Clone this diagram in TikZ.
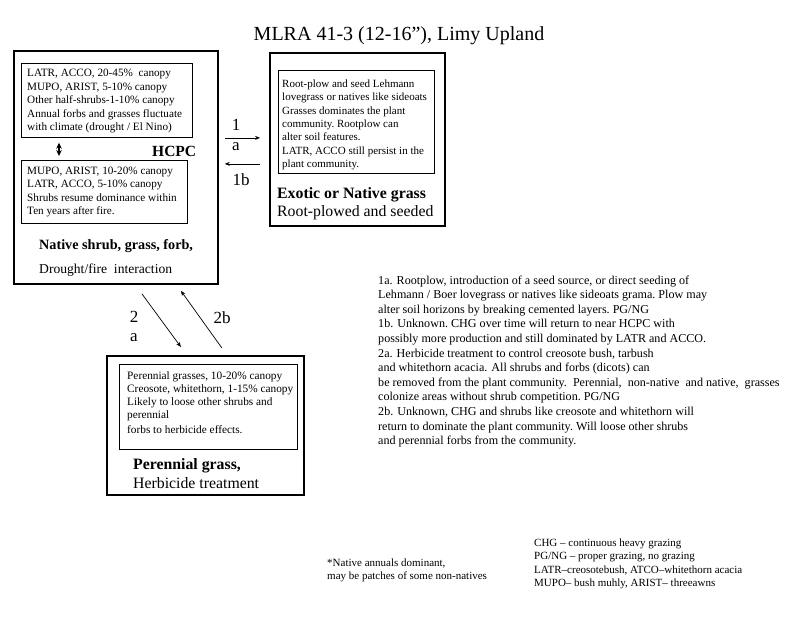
\documentclass[tikz,border=0pt]{standalone}
\usepackage{fontspec}
\setmainfont{Liberation Serif}
\usetikzlibrary{calc,arrows.meta}
\newcommand\mylines[1]{\begin{tabular}[t]{@{}l@{}}#1\end{tabular}}
\tikzset{
  obox/.style={draw, line width=1.8pt, rectangle, inner sep=0pt, anchor=north west},
  ibox/.style={draw, line width=0.7pt, rectangle, inner sep=0pt, anchor=north west},
  txt/.style={anchor=base west, inner sep=0pt, font=\fontsize{11.2}{13.5}\selectfont},
  ptxt/.style={anchor=base west, inner sep=0pt, font=\fontsize{12.1}{14.6}\selectfont},
  ntxt/.style={anchor=base west, inner sep=0pt, font=\fontsize{11}{13.6}\selectfont},
  big/.style={anchor=base west, inner sep=0pt, font=\fontsize{15.8}{18}\selectfont},
  lbl/.style={inner sep=0pt, font=\fontsize{17}{19}\selectfont},
  arr/.style={line width=0.7pt, -{Stealth[length=5pt,width=4pt]}},
  dbl/.style={line width=1.2pt, {Stealth[length=6pt,width=5.5pt]}-{Stealth[length=6pt,width=5.5pt]}}
}
\begin{document}
\begin{tikzpicture}[x=1pt,y=-1pt]
\useasboundingbox (0,0) rectangle (800,618);
\fill[white] (0,0) rectangle (800,618);
% title
\node[inner sep=0pt, font=\fontsize{20}{23}\selectfont] (title) at (399,36) {MLRA 41-3 (12-16”), Limy Upland};
% HCPC
\node[obox, minimum width=204pt, minimum height=233pt] (hcpc) at (13,50) {};
\node[ibox, minimum width=171pt, minimum height=74pt] (in1) at (21,63) {};
\node[ibox, minimum width=166pt, minimum height=63pt] (in2) at (21,160) {};
\node[txt] (t1) at (27,77) {\mylines{LATR, ACCO, 20-45\%\ \ canopy\\MUPO, ARIST, 5-10\% canopy\\Other half-shrubs-1-10\% canopy\\Annual forbs and grasses fluctuate\\with climate (drought / El Nino)}};
\node[txt] (t2) at (27,174) {\mylines{MUPO, ARIST, 10-20\% canopy\\LATR, ACCO, 5-10\% canopy\\Shrubs resume dominance within\\Ten years after fire.}};
\draw[dbl] ($(in1.south west)+(38,5)$) coordinate (d1) -- ($(in2.north west)+(38,-4)$) coordinate (d2);
\node[anchor=west, inner sep=0pt, font=\fontsize{15.5}{18}\selectfont\bfseries] (hcpclbl) at (152,151) {HCPC};
\node[anchor=base west, inner sep=0pt, font=\fontsize{14.2}{16}\selectfont\bfseries] (nsg) at (39,249) {Native shrub, grass, forb,};
\node[anchor=base west, inner sep=0pt, font=\fontsize{13.6}{16}\selectfont] (dfi) at (39,273) {Drought/fire\ \ interaction};
% Exotic
\node[obox, minimum width=175pt, minimum height=173pt] (exotic) at (269,52) {};
\node[ibox, minimum width=156pt, minimum height=103pt] (exin) at (278,70) {};
\node[txt, font=\fontsize{11}{13.5}\selectfont] (t3) at (282,87) {\mylines{Root-plow\ and seed Lehmann\\lovegrass or natives like sideoats\\Grasses dominates the plant\\community.\ Rootplow can\\alter soil features.\\LATR, ACCO still persist in the\\plant community.}};
\node[big, font=\fontsize{15.8}{18}\selectfont\bfseries] (exl) at (277,198) {Exotic or Native grass};
\node[big] (exl2) at (277,216) {Root-plowed and seeded};
% Perennial
\node[obox, minimum width=197pt, minimum height=139pt] (pb) at (106,355) {};
\node[ibox, minimum width=178pt, minimum height=85pt] (pin) at (119,364) {};
\node[txt, font=\fontsize{11.3}{13.3}\selectfont] (t4) at (127,379) {\mylines{Perennial grasses, 10-20\% canopy\\Creosote, whitethorn,\ 1-15\% canopy\\Likely to loose other shrubs and\\perennial\\[1pt]forbs to herbicide effects.}};
\node[big, font=\fontsize{15.8}{18}\selectfont\bfseries] (pl) at (133,469) {Perennial grass,};
\node[big] (pl2) at (133,488) {Herbicide\ treatment};
% connectors
\draw[arr] ($(hcpc.east)+(6,-29.5)$) coordinate (a1s) -- ($(exotic.west)+(-9,-1.5)$) coordinate (a1e);
\draw[arr] ($(exotic.west)+(-9,24.5)$) coordinate (b1s) -- ($(hcpc.east)+(6,-3.5)$) coordinate (b1e);
\draw[arr] ($(hcpc.south)+(26,9)$) coordinate (a2s) -- ($(pb.north)+(-24.5,-8)$) coordinate (a2e);
\draw[arr] ($(pb.north)+(16.5,-7)$) coordinate (b2s) -- ($(hcpc.south)+(65,6)$) coordinate (b2e);
\node[lbl] (l1) at (236,125) {1};
\node[lbl] (l1a) at (236,147) {a};
\node[lbl] (l1b) at (241,180) {1b};
\node[lbl] (l2) at (134,317) {2};
\node[lbl] (l2a) at (134,338) {a};
\node[lbl] (l2b) at (222,318) {2b};
% paragraph
\node[ptxt] (par) at (378,284) {\mylines{1a. Rootplow,\ introduction\ of a seed source, or direct\ seeding\ of\\Lehmann\ / Boer lovegrass\ or natives\ like\ sideoats grama.\ Plow may\\alter\ soil horizons\ by breaking\ cemented\ layers.\ PG/NG\\1b. Unknown.\ CHG over time\ will\ return to near HCPC with\\possibly\ more production\ and still\ dominated\ by LATR\ and ACCO.\\2a. Herbicide\ treatment\ to control creosote bush, tarbush\\and whitethorn\ acacia. All\ shrubs and forbs (dicots)\ can\\be removed from the plant\ community.\ \ Perennial,\ \ non-native\ \ and native,\ \ grasses\\colonize\ areas without\ shrub competition.\ PG/NG\\2b. Unknown,\ CHG and shrubs like\ creosote and whitethorn\ will\\return to dominate\ the plant community.\ Will\ loose other shrubs\\and perennial\ forbs from the community.}};
% notes
\node[ntxt, font=\fontsize{11}{13.5}\selectfont] (n1) at (327,566) {\mylines{*Native annuals dominant,\\may be patches of some non-natives}};
\node[ntxt] (n2) at (534,546) {\mylines{CHG -- continuous\ heavy grazing\\PG/NG -- proper grazing,\ no grazing\\LATR--creosotebush, ATCO--whitethorn acacia\\MUPO-- bush muhly,\ ARIST-- threeawns}};
\end{tikzpicture}
\end{document}
